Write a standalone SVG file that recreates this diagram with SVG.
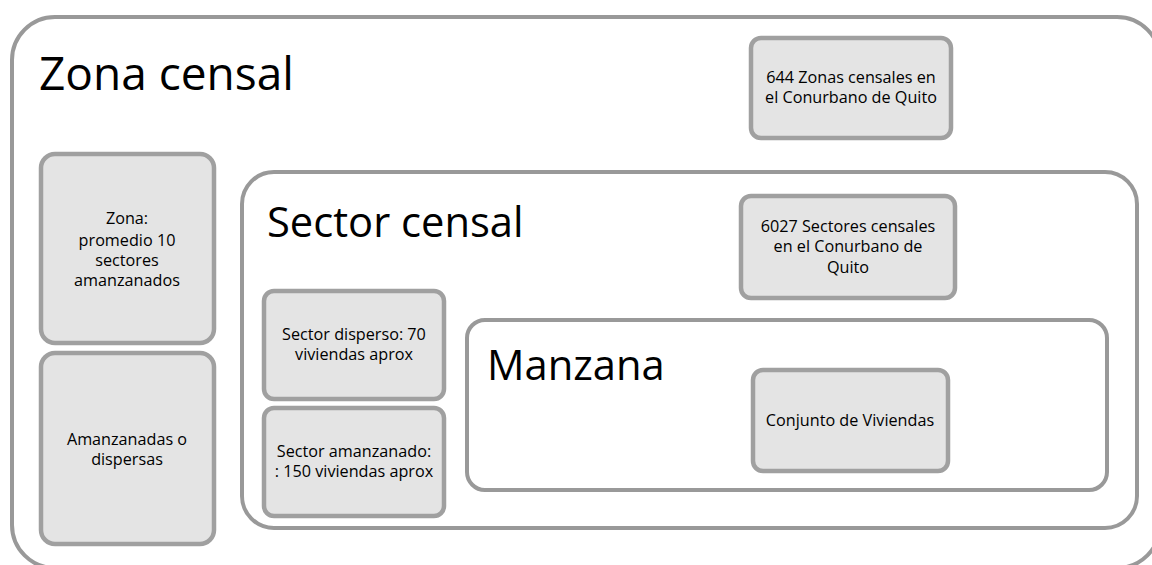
<svg xmlns="http://www.w3.org/2000/svg" width="1152" height="565" viewBox="0 0 1152 565">
<style>
.frame{fill:#ffffff;stroke:#999999;stroke-width:4}
.box{fill:#e4e4e4;stroke:#a0a0a0;stroke-width:4.5}
.big{font-family:"Open Sans","Liberation Sans",sans-serif;font-size:46px;fill:#000}
.mid{font-family:"Open Sans","Liberation Sans",sans-serif;font-size:41.7px;fill:#000}
.sm{font-family:"Open Sans","Liberation Sans",sans-serif;font-size:16.2px;fill:#000;text-anchor:middle}
</style>
<rect width="1152" height="565" fill="#ffffff"/>
<g id="zona-censal">
<rect class="frame" x="12" y="17" width="1148" height="551" rx="43"/>
<text class="big" x="39" y="90">Zona censal</text>
</g>
<g id="zonas-644">
<rect class="box" x="751" y="38" width="200" height="100" rx="10"/>
<text class="sm"><tspan x="851" y="83">644 Zonas censales en</tspan><tspan x="851" y="103">el Conurbano de Quito</tspan></text>
</g>
<g id="zona-promedio">
<rect class="box" x="41" y="154" width="173" height="189" rx="14"/>
<text class="sm"><tspan x="127" y="224">Zona:</tspan><tspan x="127" y="246">promedio 10</tspan><tspan x="127" y="266">sectores</tspan><tspan x="127" y="286">amanzanados</tspan></text>
</g>
<g id="zona-amanzanadas">
<rect class="box" x="41" y="353" width="173" height="191" rx="14"/>
<text class="sm"><tspan x="127" y="445">Amanzanadas o</tspan><tspan x="127" y="465">dispersas</tspan></text>
</g>
<g id="sector-censal">
<rect class="frame" x="242" y="172" width="895" height="356" rx="32"/>
<text class="mid" x="267" y="237">Sector censal</text>
</g>
<g id="sectores-6027">
<rect class="box" x="741" y="196" width="214" height="102" rx="10"/>
<text class="sm"><tspan x="848" y="232">6027 Sectores censales</tspan><tspan x="848" y="252">en el Conurbano de</tspan><tspan x="848" y="273">Quito</tspan></text>
</g>
<g id="sector-disperso">
<rect class="box" x="264" y="291" width="180" height="108" rx="10"/>
<text class="sm"><tspan x="354" y="340">Sector disperso: 70</tspan><tspan x="354" y="360">viviendas aprox</tspan></text>
</g>
<g id="sector-amanzanado">
<rect class="box" x="264" y="408" width="180" height="108" rx="10"/>
<text class="sm"><tspan x="354" y="457">Sector amanzanado:</tspan><tspan x="354" y="477">: 150 viviendas aprox</tspan></text>
</g>
<g id="manzana">
<rect class="frame" x="467" y="320" width="640" height="170" rx="18"/>
<text class="mid" x="487" y="380">Manzana</text>
</g>
<g id="conjunto-viviendas">
<rect class="box" x="753" y="370" width="195" height="101" rx="10"/>
<text class="sm"><tspan x="850" y="426">Conjunto de Viviendas</tspan></text>
</g>
<g id="connectors"></g>
</svg>
